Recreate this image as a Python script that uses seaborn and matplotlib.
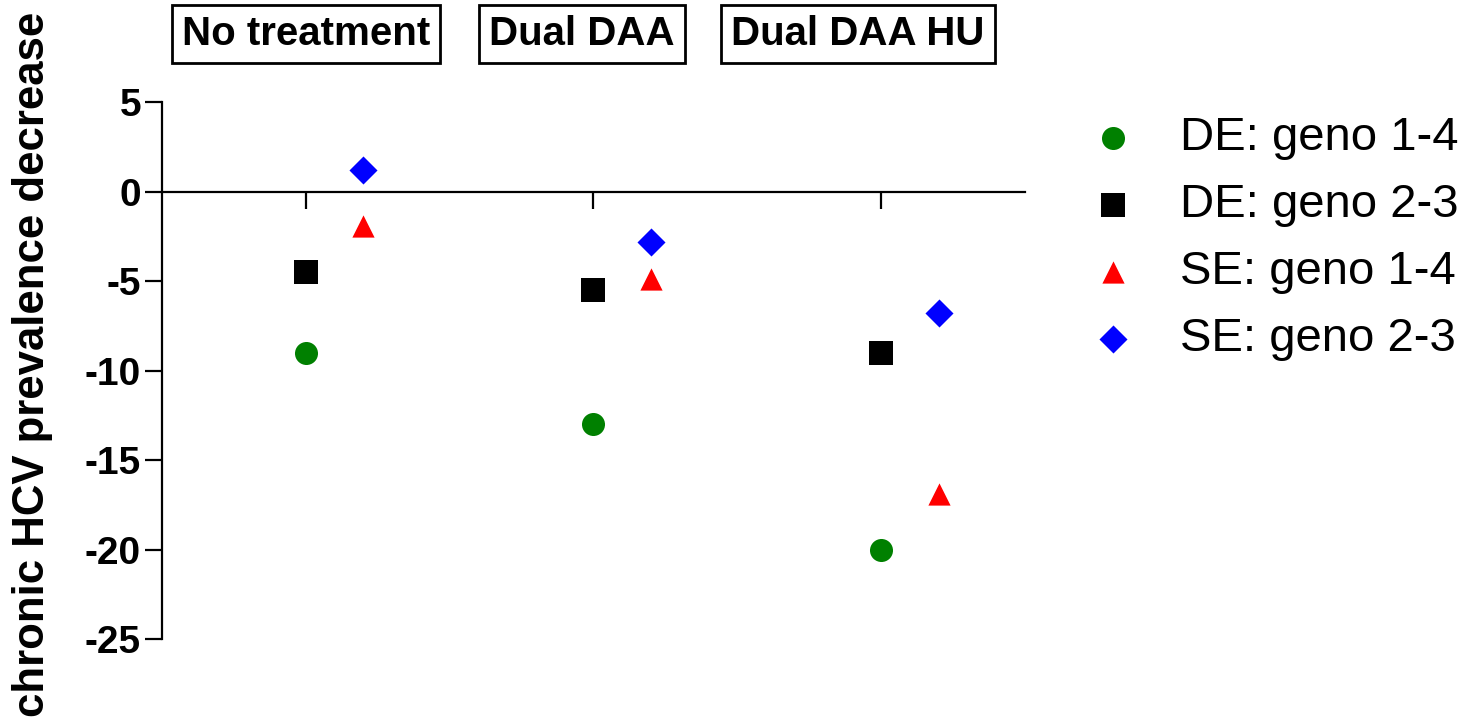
import matplotlib
matplotlib.use("Agg")
import matplotlib.pyplot as plt
import matplotlib.transforms as mtransforms
import pandas as pd
import seaborn as sns

# values
treatments = ["No treatment", "Dual DAA", "Dual DAA HU"]
series_names = ["DE: geno 1-4", "DE: geno 2-3", "SE: geno 1-4", "SE: geno 2-3"]
de_geno_14 = [-9.0, -13.0, -20.0]
de_geno_23 = [-4.5, -5.5, -9.0]
se_geno_14 = [-1.9, -4.9, -16.9]
se_geno_23 = [1.2, -2.8, -6.8]
y_ticks = [5, 0, -5, -10, -15, -20, -25]

# marker, colour, area (pt^2), horizontal offset from the category
styles = {
    "DE: geno 1-4": ("o", "#008000", 275, 0.0),
    "DE: geno 2-3": ("s", "#000000", 295, 0.0),
    "SE: geno 1-4": ("^", "#FF0000", 256, 0.2),
    "SE: geno 2-3": ("D", "#0000FF", 204, 0.2),
}

rows = []
for name, vals in zip(series_names, [de_geno_14, de_geno_23, se_geno_14, se_geno_23]):
    for i, v in enumerate(vals):
        rows.append({"series": name, "treatment": treatments[i],
                     "pos": i + styles[name][3], "value": v})
df = pd.DataFrame(rows)

sns.set_theme(style="white")
plt.rcParams["font.family"] = ["Liberation Sans", "DejaVu Sans"]
plt.rcParams["text.color"] = "black"
plt.rcParams["axes.labelcolor"] = "black"
plt.rcParams["xtick.color"] = "black"
plt.rcParams["ytick.color"] = "black"

fig = plt.figure(figsize=(14.71, 7.25), dpi=100)
ax = fig.add_axes([0.1101, 0.1186, 0.5867, 0.7407])

for name in series_names:
    marker, color, size, _ = styles[name]
    sns.scatterplot(data=df[df["series"] == name], x="pos", y="value",
                    marker=marker, color=color, s=size, linewidth=0,
                    label=name, ax=ax, zorder=3)

ax.set_xlim(-0.5, 2.5)
ax.set_ylim(-25, 5)
ax.set_xticks(range(len(treatments)))
ax.set_xticklabels([""] * len(treatments))
ax.set_yticks(y_ticks)
ax.set_yticklabels([str(t) for t in y_ticks], fontsize=28, fontweight="bold")
ax.set_xlabel("")
ax.set_ylabel("")

sns.despine(ax=ax, top=True, right=True)
ax.spines["bottom"].set_position(("data", 0))
for side in ["left", "bottom"]:
    ax.spines[side].set_color("black")
    ax.spines[side].set_linewidth(1.6)
ax.tick_params(axis="both", which="major", bottom=True, left=True,
               direction="out", length=12, width=1.6, color="black", pad=3)

# boxed treatment names above the plot
trans = mtransforms.blended_transform_factory(ax.transData, ax.transAxes)
for i, t in enumerate(treatments):
    ax.text(i - 0.04 * i, 1.127, t, transform=trans, ha="center", va="center",
            fontsize=29, fontweight="bold", clip_on=False,
            bbox=dict(boxstyle="square,pad=0.25", fc="white", ec="black", lw=2))

fig.text(33 / 1471, 1 - 364 / 725, "chronic HCV prevalence decrease",
         rotation=90, ha="center", va="center", fontsize=31.5, fontweight="bold")

ax.legend_.remove()
handles, labels = ax.get_legend_handles_labels()
fig.legend(handles, labels, loc="upper left",
           bbox_to_anchor=(1089 / 1471, 1 - 116 / 725),
           bbox_transform=fig.transFigure, frameon=False, fontsize=34,
           handlelength=1.0, handletextpad=0.92, labelspacing=0.49,
           borderpad=0, borderaxespad=0)

fig.savefig("out.png", dpi=100)
